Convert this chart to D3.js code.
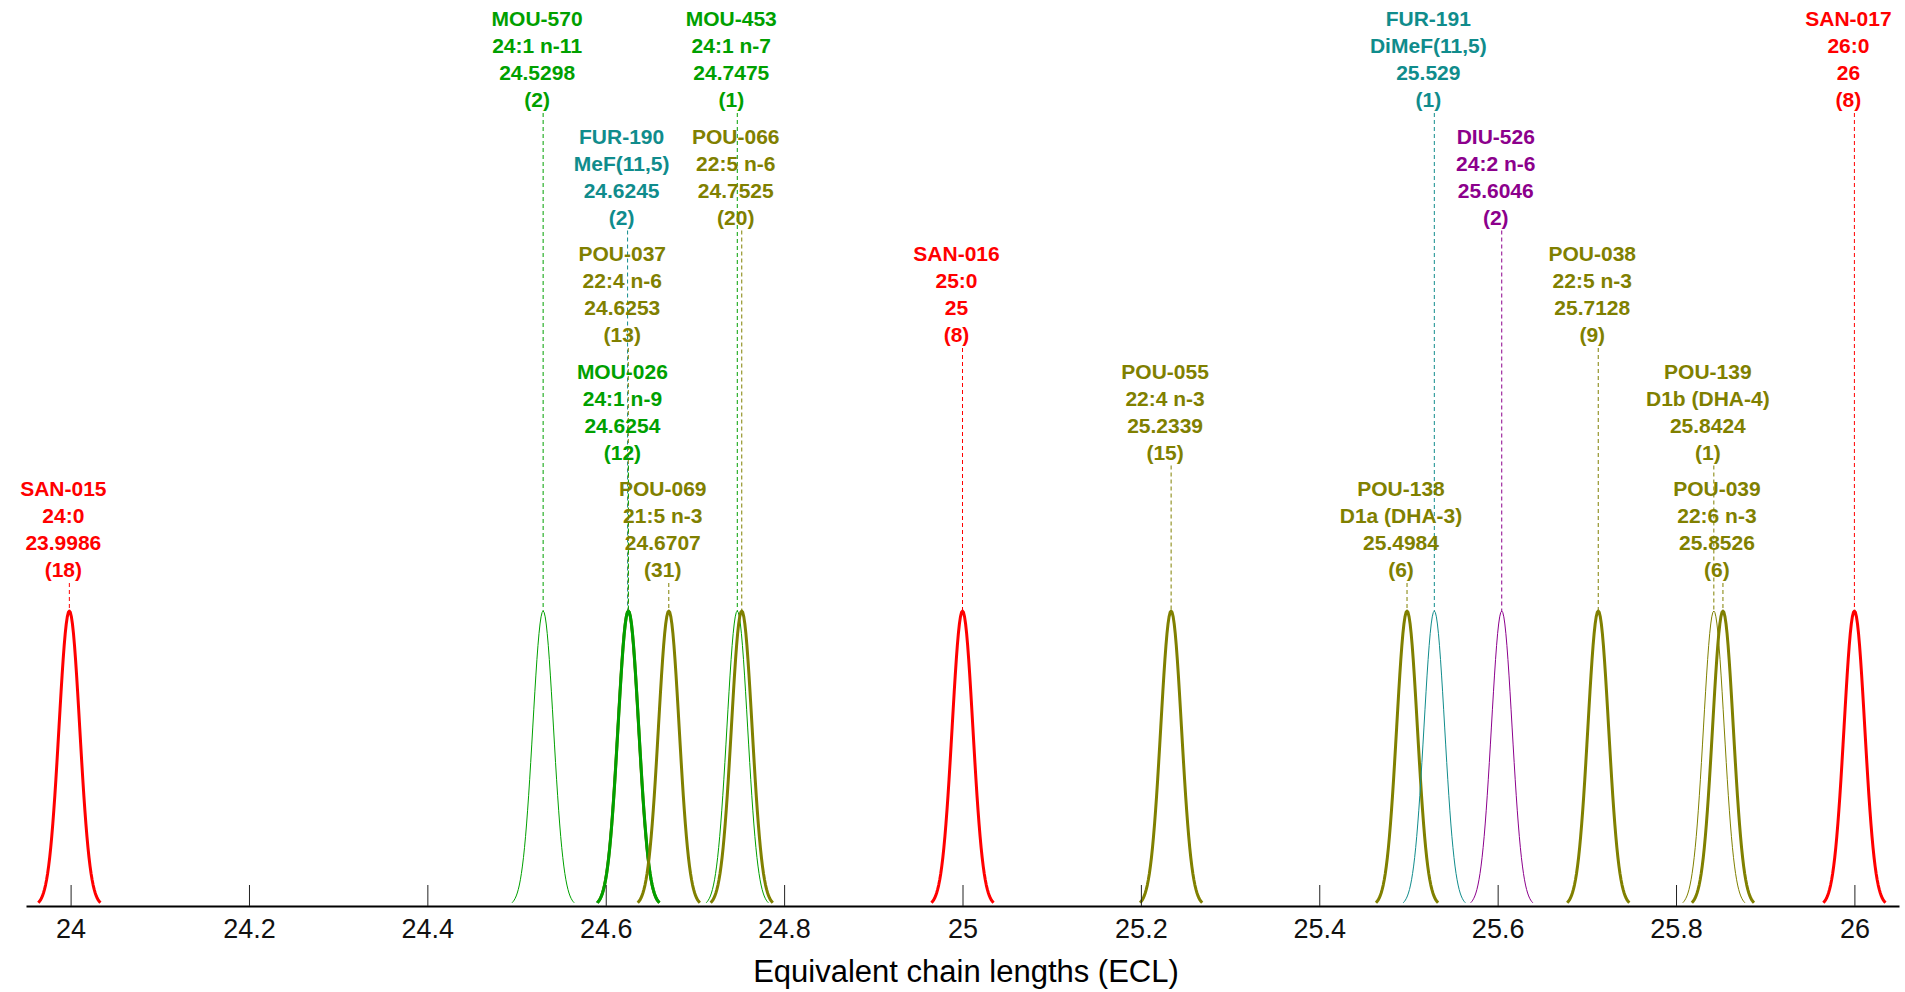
<!DOCTYPE html>
<html>
<head>
<meta charset="utf-8">
<script src="https://cdn.jsdelivr.net/npm/d3@7"></script>
<style>
  html, body { margin: 0; padding: 0; background: #fff; }
  svg { display: block; }
  text { font-family: "Liberation Sans", Arial, Helvetica, sans-serif; }
</style>
</head>
<body>
<svg id="chart" width="1905" height="992"></svg>
<script>
// ---- data ----
const names    = ['SAN-015','MOU-570','FUR-190','POU-037','MOU-026','POU-069','MOU-453','POU-066','SAN-016','POU-055','POU-138','FUR-191','DIU-526','POU-038','POU-139','POU-039','SAN-017'];
const formulas = ['24:0','24:1 n-11','MeF(11,5)','22:4 n-6','24:1 n-9','21:5 n-3','24:1 n-7','22:5 n-6','25:0','22:4 n-3','D1a (DHA-3)','DiMeF(11,5)','24:2 n-6','22:5 n-3','D1b (DHA-4)','22:6 n-3','26:0'];
const ecl      = [23.9986, 24.5298, 24.6245, 24.6253, 24.6254, 24.6707, 24.7475, 24.7525, 25, 25.2339, 25.4984, 25.529, 25.6046, 25.7128, 25.8424, 25.8526, 26];
const counts   = [18, 2, 2, 13, 12, 31, 1, 20, 8, 15, 6, 1, 2, 9, 1, 6, 8];
const levels   = [4, 0, 1, 2, 3, 4, 0, 1, 2, 3, 4, 0, 1, 2, 3, 4, 0];
const tickValues = [24, 24.2, 24.4, 24.6, 24.8, 25, 25.2, 25.4, 25.6, 25.8, 26];
const tickLabels = ['24','24.2','24.4','24.6','24.8','25','25.2','25.4','25.6','25.8','26'];
const groups  = ['SAN','MOU','FUR','POU','DIU'];
const colours = ['#ff0000','#00a000','#108c8c','#808000','#8c008c'];
const xTitle = 'Equivalent chain lengths (ECL)';

// ---- layout ----
const svg = d3.select('#chart');
const baseY = 906, topY = 611;
const x = d3.scaleLinear().domain([23.95, 26.05]).range([26, 1899]);
const y = d3.scaleLinear().domain([0, 1]).range([baseY, topY]);
const colour = d3.scaleOrdinal().domain(groups).range(colours);
const width = d3.scaleThreshold().domain([5]).range([1, 3]);
const sigma = 0.0116;

const peaks = names.map((n, i) => ({
  name: n, formula: formulas[i], ecl: ecl[i], count: counts[i], level: levels[i],
  group: n.slice(0, 3)
}));

// label geometry
const firstBase = 26, levelStep = 117.5, lineStep = 27;
function lineBase(level, j) { return firstBase + levelStep * level + lineStep * j; }

// leader lines
svg.append('g').selectAll('line').data(peaks).join('line')
  .attr('x1', d => x(d.ecl)).attr('x2', d => x(d.ecl))
  .attr('y1', d => lineBase(d.level, 3) + 6)
  .attr('y2', y(1))
  .attr('stroke', d => colour(d.group))
  .attr('stroke-width', 1)
  .attr('stroke-dasharray', '4,3');

// peaks
const line = d3.line().x(d => x(d[0])).y(d => y(d[1]));
const nSteps = 60;
svg.append('g').selectAll('path').data(peaks).join('path')
  .attr('d', d => line(d3.range(nSteps + 1).map(k => {
    const t = -3 + 6 * k / nSteps;
    return [d.ecl + t * sigma, Math.exp(-t * t / 2)];
  })))
  .attr('fill', 'none')
  .attr('stroke', d => colour(d.group))
  .attr('stroke-width', d => width(d.count))
  .attr('stroke-linejoin', 'round');

// labels
const lab = svg.append('g').selectAll('text').data(peaks).join('text')
  .attr('text-anchor', 'middle')
  .attr('font-size', 21)
  .attr('font-weight', 'bold')
  .attr('fill', d => colour(d.group));
lab.each(function(d) {
  const t = d3.select(this);
  const lines = [d.name, d.formula, String(d.ecl), '(' + d.count + ')'];
  lines.forEach((s, j) => {
    t.append('tspan').attr('x', x(d.ecl) - 6).attr('y', lineBase(d.level, j)).text(s);
  });
});

// axis
const axis = d3.axisBottom(x)
  .tickValues(tickValues)
  .tickFormat((d, i) => tickLabels[i])
  .tickSizeInner(-21)
  .tickSizeOuter(0)
  .tickPadding(13);
const ax = svg.append('g').attr('transform', `translate(0,${baseY})`).call(axis);
ax.select('.domain').attr('stroke', '#000').attr('stroke-width', 2);
ax.selectAll('.tick line').attr('stroke', '#222').attr('stroke-width', 1);
ax.selectAll('.tick text').attr('font-size', 27).attr('fill', '#111')
  .attr('font-family', '"Liberation Sans", Arial, sans-serif');

svg.append('text')
  .attr('x', 966).attr('y', 982)
  .attr('text-anchor', 'middle')
  .attr('font-size', 31)
  .attr('fill', '#000')
  .text(xTitle);
</script>
</body>
</html>
